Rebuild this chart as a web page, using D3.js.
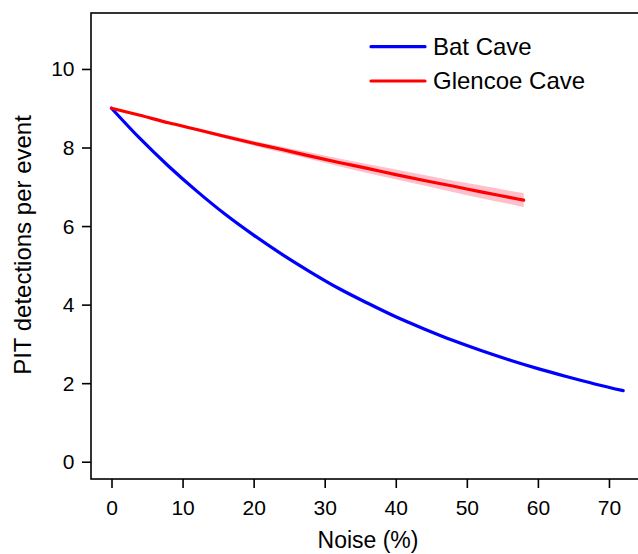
<!DOCTYPE html>
<html>
<head>
<meta charset="utf-8">
<script src="https://cdn.jsdelivr.net/npm/d3@7"></script>
<style>
  html, body { margin: 0; padding: 0; background: #fff; }
  svg { display: block; font-family: "Liberation Sans", Arial, Helvetica, sans-serif; }
</style>
</head>
<body>
<svg id="chart" width="638" height="554"></svg>
<script>
// ---- Data ----
const batNoise = [0, 4, 8, 12, 16, 20, 24, 28, 32, 36, 40, 44, 48, 52, 56, 60, 64, 68, 72];
const batCave = [9.00, 8.23, 7.53, 6.89, 6.30, 5.77, 5.28, 4.83, 4.41, 4.04, 3.69, 3.38, 3.09, 2.83, 2.59, 2.37, 2.17, 1.98, 1.81];

const glenNoise = [0, 4, 8, 12, 16, 20, 24, 28, 32, 36, 40, 44, 48, 52, 56, 58];
const glencoeCave = [9.00, 8.82, 8.63, 8.46, 8.28, 8.11, 7.95, 7.78, 7.62, 7.47, 7.31, 7.16, 7.02, 6.87, 6.73, 6.66];
const glencoeLower = [9.00, 8.80, 8.61, 8.42, 8.23, 8.05, 7.87, 7.70, 7.52, 7.35, 7.19, 7.03, 6.87, 6.71, 6.56, 6.48];
const glencoeUpper = [9.00, 8.83, 8.66, 8.49, 8.33, 8.17, 8.02, 7.87, 7.72, 7.58, 7.44, 7.30, 7.16, 7.03, 6.90, 6.84];

const xTicks = [0, 10, 20, 30, 40, 50, 60, 70];
const yTicks = [0, 2, 4, 6, 8, 10];
const seriesNames = ["Bat Cave", "Glencoe Cave"];
const seriesColors = ["#0000FF", "#FF0000"];
const ribbonColor = "#FFC0CB";
const xTitle = "Noise (%)";
const yTitle = "PIT detections per event";

// ---- Layout ----
const plot = { left: 91, right: 645, top: 13, bottom: 479 };
const svg = d3.select("#chart");

const x = d3.scaleLinear().domain([-2.885, 75.07]).range([plot.left, plot.right]);
const y = d3.scaleLinear().domain([-0.44, 11.425]).range([plot.bottom, plot.top]);

// Box (left, bottom, top; right side falls outside the canvas)
svg.append("rect")
  .attr("x", plot.left).attr("y", plot.top)
  .attr("width", plot.right - plot.left).attr("height", plot.bottom - plot.top)
  .attr("fill", "none").attr("stroke", "#000").attr("stroke-width", 1.6);

// Axes
const xAxis = d3.axisBottom(x).tickValues(xTicks).tickSize(9).tickPadding(12.5).tickFormat(d3.format("d"));
const yAxis = d3.axisLeft(y).tickValues(yTicks).tickSize(9).tickPadding(7.5).tickFormat(d3.format("d"));

const gx = svg.append("g").attr("transform", `translate(0,${plot.bottom})`).call(xAxis);
const gy = svg.append("g").attr("transform", `translate(${plot.left},0)`).call(yAxis);
[gx, gy].forEach(g => {
  g.select(".domain").remove();
  g.selectAll(".tick line").attr("stroke", "#000").attr("stroke-width", 1.6);
  g.selectAll(".tick text").attr("fill", "#000").style("font-size", "21px")
    .style("font-family", "'Liberation Sans', Arial, Helvetica, sans-serif");
});
gy.selectAll(".tick text").attr("dy", "0.33em");

// Axis titles
svg.append("text")
  .attr("x", (plot.left + plot.right) / 2).attr("y", 548)
  .attr("text-anchor", "middle").style("font-size", "23px").attr("fill", "#000")
  .text(xTitle);
svg.append("text")
  .attr("transform", `translate(30.5,245) rotate(-90)`)
  .attr("text-anchor", "middle").style("font-size", "24px").attr("fill", "#000")
  .text(yTitle);

// Ribbon for Glencoe Cave
const ribbonData = glenNoise.map((n, i) => ({ n, lo: glencoeLower[i], hi: glencoeUpper[i] }));
svg.append("path")
  .datum(ribbonData)
  .attr("fill", ribbonColor)
  .attr("d", d3.area().x(d => x(d.n)).y0(d => y(d.lo)).y1(d => y(d.hi)).curve(d3.curveMonotoneX));

// Lines
const line = d3.line().x(d => x(d[0])).y(d => y(d[1])).curve(d3.curveMonotoneX);
svg.append("path")
  .datum(batNoise.map((n, i) => [n, batCave[i]]))
  .attr("fill", "none").attr("stroke", seriesColors[0]).attr("stroke-width", 3.2)
  .attr("stroke-linecap", "round").attr("stroke-linejoin", "round")
  .attr("d", line);
svg.append("path")
  .datum(glenNoise.map((n, i) => [n, glencoeCave[i]]))
  .attr("fill", "none").attr("stroke", seriesColors[1]).attr("stroke-width", 3.2)
  .attr("stroke-linecap", "round").attr("stroke-linejoin", "round")
  .attr("d", line);

// Legend
const legend = svg.append("g");
seriesNames.forEach((name, i) => {
  const ly = 46.7 + i * 34.3;
  legend.append("line")
    .attr("x1", 371).attr("x2", 425).attr("y1", ly).attr("y2", ly)
    .attr("stroke", seriesColors[i]).attr("stroke-width", 3.2).attr("stroke-linecap", "round");
  legend.append("text")
    .attr("x", 433).attr("y", ly + 8)
    .style("font-size", "24px").attr("fill", "#000")
    .text(name);
});
</script>
</body>
</html>
